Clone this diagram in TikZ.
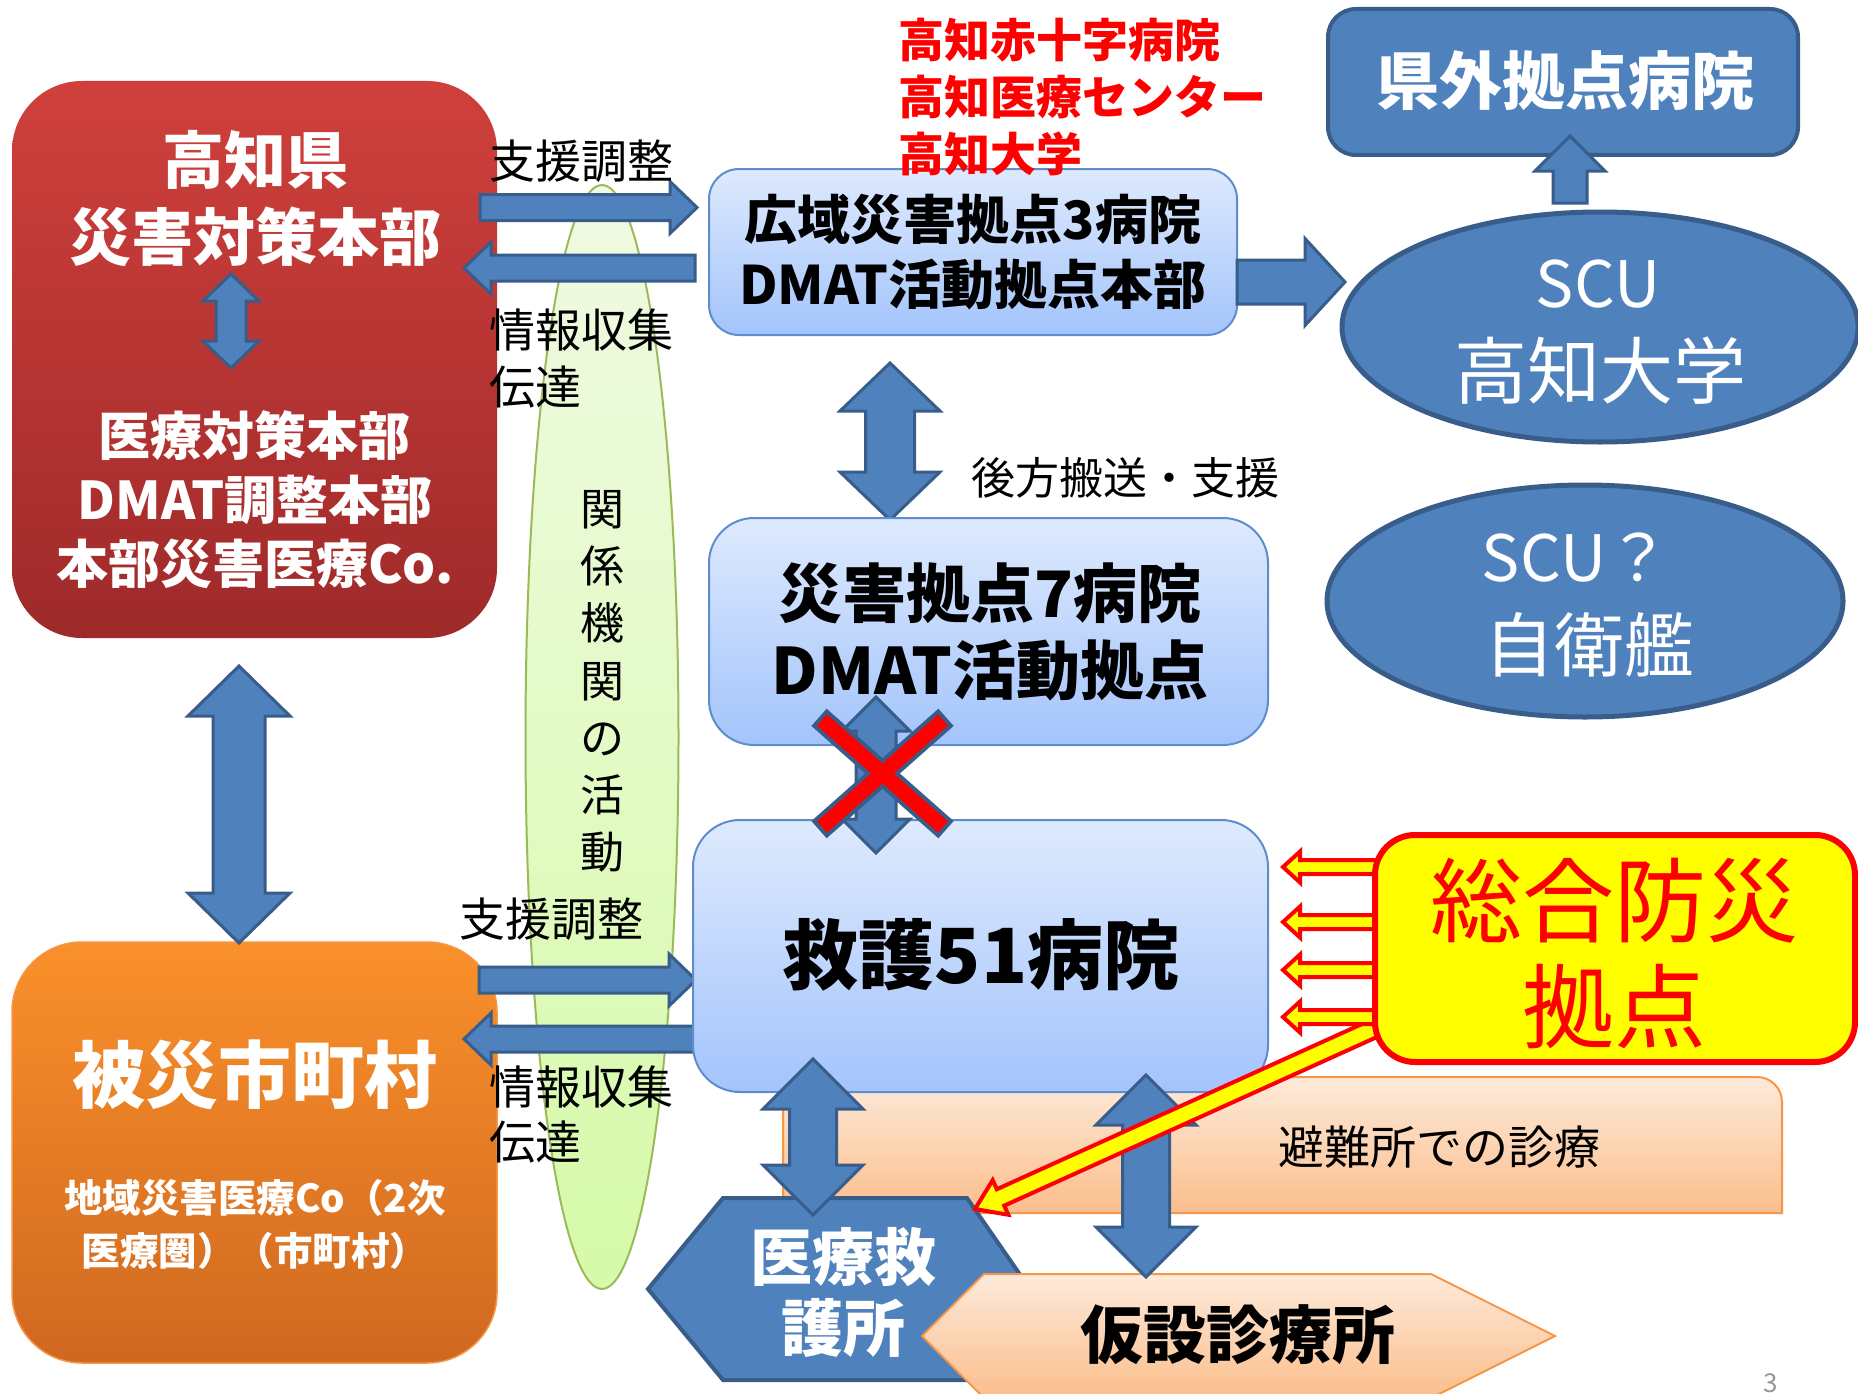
\documentclass[tikz,border=0pt]{standalone}
\usepackage{fontspec}
\setmainfont{Noto Sans CJK JP}
\usetikzlibrary{calc,shapes.geometric}
\definecolor{bl}{RGB}{79,129,189}
\definecolor{bld}{RGB}{56,93,138}
\definecolor{lbT}{RGB}{222,234,253}
\definecolor{lbB}{RGB}{163,196,252}
\definecolor{lbD}{RGB}{95,140,205}
\definecolor{rdT}{RGB}{207,64,60}
\definecolor{rdB}{RGB}{158,42,42}
\definecolor{orT}{RGB}{250,144,42}
\definecolor{orB}{RGB}{207,104,32}
\definecolor{orD}{RGB}{247,150,70}
\definecolor{pcT}{RGB}{253,234,218}
\definecolor{pcB}{RGB}{251,190,140}
\definecolor{grT}{RGB}{240,250,228}
\definecolor{grB}{RGB}{214,250,168}
\definecolor{grD}{RGB}{155,187,89}
\definecolor{yel}{RGB}{255,255,0}
\definecolor{redz}{RGB}{255,0,0}
\definecolor{pgray}{RGB}{150,150,150}
\newcommand\fsz[2]{\fontsize{#1pt}{#2pt}\selectfont}
% single block arrow: style, from, to, shaft half, head half, head length
\newcommand\BlkArrow[6]{%
  \coordinate (hB) at ($(#3)!#6!(#2)$);
  \draw[#1] ($(#2)!#4!90:(#3)$) -- ($(hB)!#4!90:(#3)$) -- ($(hB)!#5!90:(#3)$) -- (#3)
    -- ($(hB)!#5!-90:(#3)$) -- ($(hB)!#4!-90:(#3)$) -- ($(#2)!#4!-90:(#3)$) -- cycle;}
% double block arrow
\newcommand\DblArrow[6]{%
  \coordinate (hA) at ($(#2)!#6!(#3)$);
  \coordinate (hB) at ($(#3)!#6!(#2)$);
  \draw[#1] (#2) -- ($(hA)!#5!90:(#3)$) -- ($(hA)!#4!90:(#3)$) -- ($(hB)!#4!90:(#3)$)
    -- ($(hB)!#5!90:(#3)$) -- (#3) -- ($(hB)!#5!-90:(#3)$) -- ($(hB)!#4!-90:(#3)$)
    -- ($(hA)!#4!-90:(#3)$) -- ($(hA)!#5!-90:(#3)$) -- cycle;}
\begin{document}
\begin{tikzpicture}[x=1pt,y=-1pt,line join=miter,
  blk/.style={fill=bl,draw=bld,line width=3pt},
  yar/.style={fill=yel,draw=redz,line width=4pt},
  txt/.style={inner sep=0pt,align=center},
  lbox/.style={rectangle,inner sep=0pt,top color=lbT,bottom color=lbB,draw=lbD,line width=2pt},
  bbox/.style={rectangle,inner sep=0pt,fill=bl,draw=bld,line width=4pt},
  bell/.style={ellipse,inner sep=0pt,fill=bl,draw=bld,line width=5pt},
]
\useasboundingbox (0,0) rectangle (1858,1394);
\fill[white] (0,0) rectangle (1858,1394);

% green ellipse
\node[ellipse,inner sep=0pt,minimum width=153pt,minimum height=1104pt,top color=grT,bottom color=grB,draw=grD,line width=2pt] (kankei) at (602,737) {};

% red and orange boxes
\node[rectangle,inner sep=0pt,rounded corners=70pt,minimum width=485pt,minimum height=557pt,top color=rdT,bottom color=rdB] (ken) at (254.5,359.5) {};
\node[rectangle,inner sep=0pt,rounded corners=70pt,minimum width=485pt,minimum height=421pt,top color=orT,bottom color=orB,draw=orD,line width=1.5pt] (city) at (254.5,1152.5) {};

\node[txt,text=white,font=\fsz{62}{77}\bfseries] (kenT) at (255,198.5) {高知県\\災害対策本部};
\node[txt,text=white,font=\fsz{52}{64}\bfseries] (kenT2) at (255,500) {医療対策本部\\DMAT調整本部\\本部災害医療Co.};
\node[txt,text=white,font=\fsz{73}{80}\bfseries] (cityT) at (255,1075) {被災市町村};
\node[txt,text=white,font=\fsz{38.5}{53}\bfseries] (cityT2) at (255,1224.5) {地域災害医療Co（2次\\医療圏）（市町村）};

% arrows near the green ellipse
\coordinate (u1s) at (480,207.5); \coordinate (u1e) at (697,207.5);
\coordinate (u2s) at (695,268);   \coordinate (u2e) at (464,268);
\coordinate (l1s) at (479,980);   \coordinate (l1e) at (696,980);
\coordinate (l2s) at (696,1039);  \coordinate (l2e) at (464,1039);
\BlkArrow{blk}{u1s}{u1e}{13pt}{26pt}{27pt}
\BlkArrow{blk}{u2s}{u2e}{13pt}{26pt}{27pt}
\BlkArrow{blk}{l1s}{l1e}{13pt}{26pt}{27pt}
\BlkArrow{blk}{l2s}{l2e}{13pt}{26pt}{27pt}

\node[txt,font=\fsz{46}{50}] (lab1) at (581,161) {支援調整};
\node[txt,font=\fsz{46}{50}] (lab2) at (581,330) {情報収集};
\node[txt,font=\fsz{46}{50},anchor=west] (lab3) at (489,387) {伝達};
\node[txt,font=\fsz{46}{50}] (lab4) at (551,919) {支援調整};
\node[txt,font=\fsz{46}{50}] (lab5) at (581,1087) {情報収集};
\node[txt,font=\fsz{46}{50},anchor=west] (lab6) at (489,1142) {伝達};
\node[txt,font=\fsz{44}{57.2}] (kankeiT) at (602,681.5) {関\\係\\機\\関\\の\\活\\動};

% vertical arrows on the left
\coordinate (kv1) at (231,274); \coordinate (kv2) at (231,368);
\DblArrow{blk}{kv1}{kv2}{15pt}{28pt}{27pt}
\coordinate (kc1) at (239,666); \coordinate (kc2) at (239,943);
\DblArrow{blk}{kc1}{kc2}{26pt}{51pt}{50pt}

% wide-area box
\node[lbox,rounded corners=30pt,minimum width=528pt,minimum height=166pt] (kou) at (973,252) {};
\node[txt,font=\fsz{53}{65}\bfseries] (kouT) at (973,252.5) {広域災害拠点3病院\\DMAT活動拠点本部};
\node[txt,anchor=west,align=left,text=redz,font=\fsz{46}{57}\bfseries] (redT) at (898,97) {高知赤十字病院\\高知医療センター\\高知大学};

% outside hospitals and SCU
\node[bbox,rounded corners=28pt,minimum width=470pt,minimum height=146pt] (kengai) at (1563,82) {};
\node[txt,text=white,font=\fsz{63}{70}\bfseries] (kengaiT) at (1565,81) {県外拠点病院};
\node[bell,minimum width=516pt,minimum height=230pt] (scu) at (1600,327) {};
\node[txt,text=white,font=\fsz{64}{70}] (scuA) at (1598,284) {SCU};
\node[txt,text=white,font=\fsz{73}{80}] (scuB) at (1600,371) {高知大学};
\node[bell,minimum width=516pt,minimum height=232pt] (scu2) at (1585,601) {};
\node[txt,text=white,font=\fsz{64}{70}] (scu2A) at (1576,558) {SCU？};
\node[txt,text=white,font=\fsz{70}{76}] (scu2B) at (1589,645) {自衛艦};
\coordinate (ks1) at (1237,282); \coordinate (ks2) at (1345,282);
\BlkArrow{blk}{ks1}{ks2}{22pt}{43.5pt}{40pt}
\coordinate (sk1) at (1570,203); \coordinate (sk2) at (1570,136);
\BlkArrow{blk}{sk1}{sk2}{17pt}{35pt}{35pt}

% wide-area <-> 7 hospitals
\coordinate (k71) at (890,363); \coordinate (k72) at (890,520);
\DblArrow{blk}{k71}{k72}{24.5pt}{50pt}{48pt}
\node[txt,font=\fsz{44}{50}] (kohoT) at (1125,478) {後方搬送・支援};

\node[lbox,rounded corners=45pt,minimum width=559pt,minimum height=227pt] (sai) at (988.5,631.5) {};
\node[txt,font=\fsz{64}{77}\bfseries] (saiT) at (990,631.5) {災害拠点7病院\\DMAT活動拠点};

% shelter box
\draw[top color=pcT,bottom color=pcB,draw=orD,line width=2pt] (783,1213) -- (783,1077) -- (1757,1077) arc[start angle=-90,end angle=0,radius=25] -- (1782,1213) -- cycle;
\node[txt,font=\fsz{46}{50}] (hinanT) at (1439,1147) {避難所での診療};

% 51 hospitals
\node[lbox,rounded corners=47pt,minimum width=575pt,minimum height=272pt] (kyu) at (980.5,956) {};
\node[txt,font=\fsz{76}{80}\bfseries] (kyuT) at (981,955) {救護51病院};

% crossed-out arrow
\coordinate (cr1) at (876,697); \coordinate (cr2) at (876,853);
\DblArrow{blk}{cr1}{cr2}{20pt}{34pt}{34pt}
\coordinate (x1a) at (822,720); \coordinate (x1b) at (943,827);
\coordinate (x2a) at (943,720); \coordinate (x2b) at (822,827);
\draw[bld,line width=23pt,shorten <=-4pt,shorten >=-4pt] (x1a) -- (x1b);
\draw[bld,line width=23pt,shorten <=-4pt,shorten >=-4pt] (x2a) -- (x2b);
\draw[redz,line width=15pt] (x1a) -- (x1b);
\draw[redz,line width=15pt] (x2a) -- (x2b);

% first-aid station and temporary clinic
\draw[fill=bl,draw=bld,line width=4pt] (723,1198) -- (967,1198) -- (1030,1289) -- (967,1380) -- (723,1380) -- (648,1289) -- cycle;
\node[txt,text=white,font=\fsz{62}{71}\bfseries] (iryoT) at (843,1292.5) {医療救\\護所};
\draw[top color=pcT,bottom color=pcB,draw=orD,line width=2pt] (922,1336) -- (984,1274) -- (1431,1274) -- (1555,1336) -- (1431,1398) -- (984,1398) -- cycle;
\node[txt,font=\fsz{63}{70}\bfseries] (karT) at (1238,1335) {仮設診療所};

\coordinate (ki1) at (813,1059); \coordinate (ki2) at (813,1215);
\DblArrow{blk}{ki1}{ki2}{23.5pt}{50pt}{50pt}
\coordinate (kk1) at (1146,1075); \coordinate (kk2) at (1146,1277);
\DblArrow{blk}{kk1}{kk2}{23.5pt}{50pt}{50pt}

% yellow arrows
\coordinate (dg1) at (1375,1028); \coordinate (dg2) at (975,1209);
\BlkArrow{yar}{dg1}{dg2}{9pt}{19pt}{28pt}
\foreach \yy/\nm in {867/ya,922/yb,970/yc,1017/yd}{
  \coordinate (\nm s) at (1376,\yy); \coordinate (\nm e) at (1283,\yy);
  \BlkArrow{yar}{\nm s}{\nm e}{7pt}{15.5pt}{17pt}
}

% comprehensive disaster base
\node[rectangle,inner sep=0pt,rounded corners=40pt,minimum width=480pt,minimum height=227pt,fill=yel,draw=redz,line width=6pt] (sogo) at (1615,948.5) {};
\node[txt,text=redz,font=\fsz{92}{106}] (sogoT) at (1614,954) {総合防災\\拠点};

\node[txt,text=pgray,font=\fsz{26}{30}] (pg) at (1771,1383) {3};
\end{tikzpicture}
\end{document}
